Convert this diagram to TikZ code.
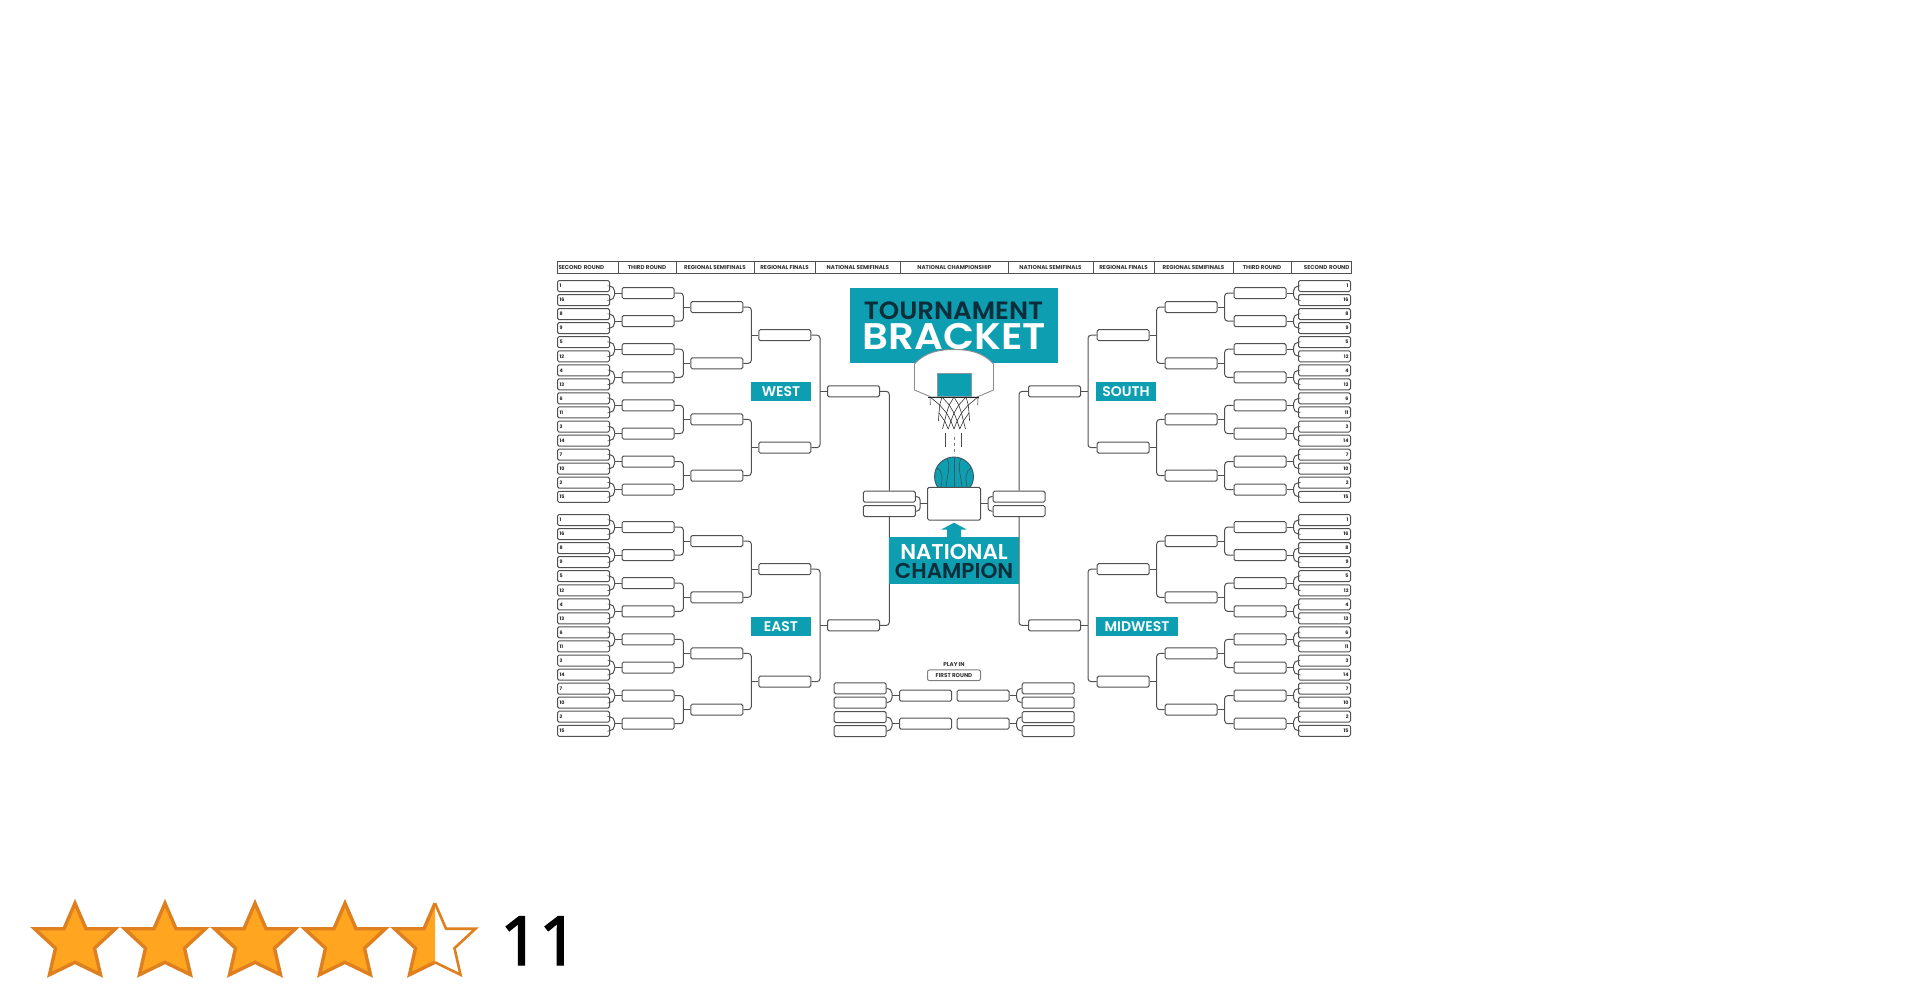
\documentclass[tikz,border=0pt]{standalone}
\usepackage{fontspec}
\setmainfont{Poppins}
\newfontface\bannerfont{Poppins SemiBold}
\newfontfamily\countfont[FakeBold=2]{Noto Sans}
\definecolor{teal1}{HTML}{0E9EB2}
\definecolor{ink}{HTML}{0B2E3A}
\definecolor{wirecol}{HTML}{505050}
\definecolor{starfill}{HTML}{FFA51F}
\definecolor{starline}{HTML}{DF8020}
\tikzset{
	wire/.style={draw=wirecol,line width=1pt,rounded corners=3pt},
	slot/.style={draw=wirecol,line width=1pt,fill=white,rounded corners=1.5pt,minimum width=52pt,minimum height=11pt,inner sep=0pt},
	tiny/.style={font=\bfseries\fontsize{4.8}{5}\selectfont,text=black!85},
	headtext/.style={font=\bfseries\fontsize{5.6}{6}\selectfont,text=black!80},
	seedleft/.style={slot,tiny,text width=48pt,inner xsep=2pt,align=left},
	seedright/.style={slot,tiny,text width=48pt,inner xsep=2pt,align=right},
	headcell/.style={draw=wirecol,line width=1pt,headtext,minimum height=11pt,inner sep=0pt},
	banner/.style={fill=teal1,inner sep=0pt,text=white,font=\bannerfont\fontsize{14}{15}\selectfont},
	bigtext/.style={inner sep=0pt,xscale=#1,transform shape},
	starshape/.style={draw=starline,line width=3.4pt,fill=starfill,miter limit=10}
}
% two slots of one round feed one slot of the next
\newcommand{\pairjoin}[7][3pt]{
	\coordinate (j#4) at ([xshift=#7*7pt]#4.#6);
	\draw[wire,rounded corners=#1] (#2.#5) -| (j#4);
	\draw[wire,rounded corners=#1] (#3.#5) -| (j#4);
	\draw[wire] (j#4) -- (#4.#6);
}
% name, top y, side, anchor out, anchor in, seed style
\newcommand{\region}[6]{
	\foreach \seed [count=\i from 0] in {1,16,8,9,5,12,4,13,6,11,3,14,7,10,2,15}
		\node[#6] (#1a\i) at ({954+#3*370.5},{#2+\i*14.05}) {\seed};
	\foreach \i in {0,...,7}
		\node[slot] (#1b\i) at ({954+#3*306},{#2+7.02+\i*28.1}) {};
	\foreach \i in {0,...,3}
		\node[slot] (#1c\i) at ({954+#3*237.2},{#2+21.07+\i*56.2}) {};
	\foreach \i in {0,1}
		\node[slot] (#1d\i) at ({954+#3*169.2},{#2+49.2+\i*112.4}) {};
	\node[slot] (#1e) at ({954+#3*100.5},{#2+105.4}) {};
	\foreach \i in {0,...,7}{
		\pgfmathtruncatemacro\p{2*\i}\pgfmathtruncatemacro\q{2*\i+1}
		\pairjoin[5pt]{#1a\p}{#1a\q}{#1b\i}{#4}{#5}{#3}
	}
	\foreach \i in {0,...,3}{
		\pgfmathtruncatemacro\p{2*\i}\pgfmathtruncatemacro\q{2*\i+1}
		\pairjoin{#1b\p}{#1b\q}{#1c\i}{#4}{#5}{#3}
	}
	\foreach \i in {0,1}{
		\pgfmathtruncatemacro\p{2*\i}\pgfmathtruncatemacro\q{2*\i+1}
		\pairjoin{#1c\p}{#1c\q}{#1d\i}{#4}{#5}{#3}
	}
	\pairjoin{#1d0}{#1d1}{#1e}{#4}{#5}{#3}
}
\begin{document}
\begin{tikzpicture}[x=1pt,y=-1pt]
	\path[use as bounding box,fill=white] (0,0) rectangle (1910,1000);
	% header row
	\node[headcell,minimum width=61pt,text width=58pt,inner xsep=1.5pt,align=left] (hd1) at (587.5,267.5) {SECOND ROUND};
	\foreach \l/\r/\txt [count=\i from 2] in {618/676/THIRD ROUND,676/754/REGIONAL SEMIFINALS,754/815/REGIONAL FINALS,815/900.7/NATIONAL SEMIFINALS,900.7/1008/NATIONAL CHAMPIONSHIP,1008/1093/NATIONAL SEMIFINALS,1093/1154/REGIONAL FINALS,1154/1233/REGIONAL SEMIFINALS,1233/1291/THIRD ROUND}
		\node[headcell,minimum width={(\r-\l)*1pt}] (hd\i) at ({(\l+\r)/2},267.5) {\txt};
	\node[headcell,minimum width=60pt,text width=57pt,inner xsep=1.5pt,align=right] (hd11) at (1321,267.5) {SECOND ROUND};
	% the four regions
	\region{w}{286}{-1}{east}{west}{seedleft}
	\region{e}{520}{-1}{east}{west}{seedleft}
	\region{s}{286}{1}{west}{east}{seedright}
	\region{m}{520}{1}{west}{east}{seedright}
	% final four
	\node[slot] (sa) at (889.3,496.7) {};
	\node[slot] (sb) at (889.3,511) {};
	\node[slot] (sc) at (1019,496.7) {};
	\node[slot] (sd) at (1019,511) {};
	\draw[wire] (we.east) -| (sa.north);
	\draw[wire] (ee.east) -| (sb.south);
	\draw[wire] (se.west) -| (sc.north);
	\draw[wire] (me.west) -| (sd.south);
	% ball
	\fill[teal1,draw=ink!80,line width=0.9pt] (954,476.5) circle (19.5);
	\draw[ink!80,line width=0.7pt] (954,457) -- (954,487);
	\draw[ink!80,line width=0.7pt] (947,458.5) .. controls (951,466) and (947,476) .. (946,487);
	\draw[ink!80,line width=0.7pt] (961,458.5) .. controls (957,466) and (961,476) .. (962,487);
	\draw[ink!80,line width=0.7pt] (937,468) .. controls (942,470) and (943,478) .. (941,487);
	\draw[ink!80,line width=0.7pt] (971,468) .. controls (966,470) and (965,478) .. (967,487);
	% champion
	\node[slot,minimum width=53pt,minimum height=32.7pt] (champ) at (954,503.7) {};
	\pairjoin{sa}{sb}{champ}{east}{west}{-1}
	\pairjoin{sc}{sd}{champ}{west}{east}{1}
	% title
	\node[banner,minimum width=208.3pt,minimum height=75.6pt] (title) at (954,325.5) {};
	\node[bigtext=1.04,font=\bannerfont\fontsize{25}{26}\selectfont,text=ink] (tourn) at (953.5,310.5) {TOURNAMENT};
	\node[bigtext=1.09,font=\bannerfont\fontsize{37}{38}\selectfont,text=white] (brack) at (954.5,336.5) {BRACKET};
	% backboard
	\draw[draw=black!45,line width=0.9pt,fill=white] (914.5,364) .. controls (925,352) and (940,349.5) .. (954,349.5) .. controls (968,349.5) and (983,352) .. (993.5,364) -- (993.5,390) -- (977,397) -- (931,397) -- (914.5,390) -- cycle;
	\fill[teal1,draw=ink!50,line width=0.5pt] (937.3,373.3) rectangle (971,396.7);
	% net
	\foreach \r in {0,...,3}
		\foreach \c in {-4,...,4}{
			\pgfmathtruncatemacro\even{mod(abs(\c)+\r,2)==0}
			\ifnum\even=1
				\pgfmathsetmacro\wa{{24,19,15,12.5,11.5}[\r]}
				\pgfmathsetmacro\wb{{24,19,15,12.5,11.5}[\r+1]}
				\pgfmathsetmacro\ya{397+8*\r}
				\foreach \d in {-1,1}
					\draw[black!80,line width=0.6pt] ({954+\c/4*\wa},\ya) -- ({954+(\c+\d)/4*\wb},{\ya+8});
			\fi
		}
	\draw[black!85,line width=1.3pt] (928,397.3) -- (979,397.3);
	% falling lines
	\draw[black!70,line width=0.8pt] (945.7,432.7) -- (945.7,446.7);
	\draw[black!70,line width=0.8pt] (961.7,432.7) -- (961.7,446.7);
	\draw[black!50,line width=1pt,dash pattern=on 3pt off 3pt] (954,436.7) -- (954,452.7);
	% national champion
	\fill[teal1] (954,522.7) -- (966.7,529.5) -- (961,529.5) -- (961,538) -- (947,538) -- (947,529.5) -- (941.3,529.5) -- cycle;
	\node[banner,minimum width=129.7pt,minimum height=47pt] (natl) at (954.2,560.8) {};
	\node[font=\bannerfont\fontsize{21.5}{23}\selectfont,text=white,inner sep=0pt] (nattxt) at (954,552) {NATIONAL};
	\node[font=\bannerfont\fontsize{21.5}{23}\selectfont,text=ink,inner sep=0pt] (champtxt) at (954,571) {CHAMPION};
	% region labels
	\node[banner,minimum width=60.3pt,minimum height=18.7pt] (west) at (781,391.7) {WEST};
	\node[banner,minimum width=60.3pt,minimum height=18.7pt] (south) at (1126,391.7) {SOUTH};
	\node[banner,minimum width=60.3pt,minimum height=18.7pt] (east) at (781,626.2) {EAST};
	\node[banner,minimum width=82.6pt,minimum height=18.7pt] (midwest) at (1137,626.2) {MIDWEST};
	% play in
	\node[headtext,inner sep=0pt] (playin) at (954,664.3) {PLAY IN};
	\node[headtext,draw=black!50,line width=1pt,rounded corners=2pt,minimum width=53pt,minimum height=10.7pt,inner sep=0pt] (firstrd) at (954,675.3) {FIRST ROUND};
	\node[slot] (pa) at (860.2,688.3) {};
	\node[slot] (pb) at (860.2,702.7) {};
	\node[slot] (pc) at (860.2,717) {};
	\node[slot] (pd) at (860.2,731) {};
	\node[slot] (pe) at (925.5,695.7) {};
	\node[slot] (pf) at (925.5,723.7) {};
	\node[slot] (pg) at (983,695.7) {};
	\node[slot] (ph) at (983,723.7) {};
	\node[slot] (pi) at (1048.2,688.3) {};
	\node[slot] (pj) at (1048.2,702.7) {};
	\node[slot] (pk) at (1048.2,717) {};
	\node[slot] (pl) at (1048.2,731) {};
	\pairjoin[5pt]{pa}{pb}{pe}{east}{west}{-1}
	\pairjoin[5pt]{pc}{pd}{pf}{east}{west}{-1}
	\pairjoin[5pt]{pi}{pj}{pg}{west}{east}{1}
	\pairjoin[5pt]{pk}{pl}{ph}{west}{east}{1}
	% rating
	\foreach \cx in {75,165,255,345}
		\draw[starshape] (\cx,903.2) -- ++(11,25.5) -- ++(29.5,0) -- ++(-21,19.5) -- ++(6,26.5) -- ++(-25.5,-12.4) -- ++(-25.5,12.4) -- ++(6,-26.5) -- ++(-21,-19.5) -- ++(29.5,0) -- cycle;
	\draw[starline,line width=2.6pt,fill=white,miter limit=10] (435,903.2) -- ++(11,25.5) -- ++(29.5,0) -- ++(-21,19.5) -- ++(6,26.5) -- ++(-25.5,-12.4);
	\fill[starfill] (435,903.2) -- ++(-11,25.5) -- ++(-29.5,0) -- ++(21,19.5) -- ++(-6,26.5) -- ++(25.5,-12.4) -- cycle;
	\draw[starline,line width=3.4pt,miter limit=10] (435,903.2) -- ++(-11,25.5) -- ++(-29.5,0) -- ++(21,19.5) -- ++(-6,26.5) -- ++(25.5,-12.4);
	\node[font=\countfont\fontsize{68}{72}\selectfont,text=black,inner sep=0pt,anchor=base west] (count) at (500,965) {11};
\end{tikzpicture}
\end{document}
